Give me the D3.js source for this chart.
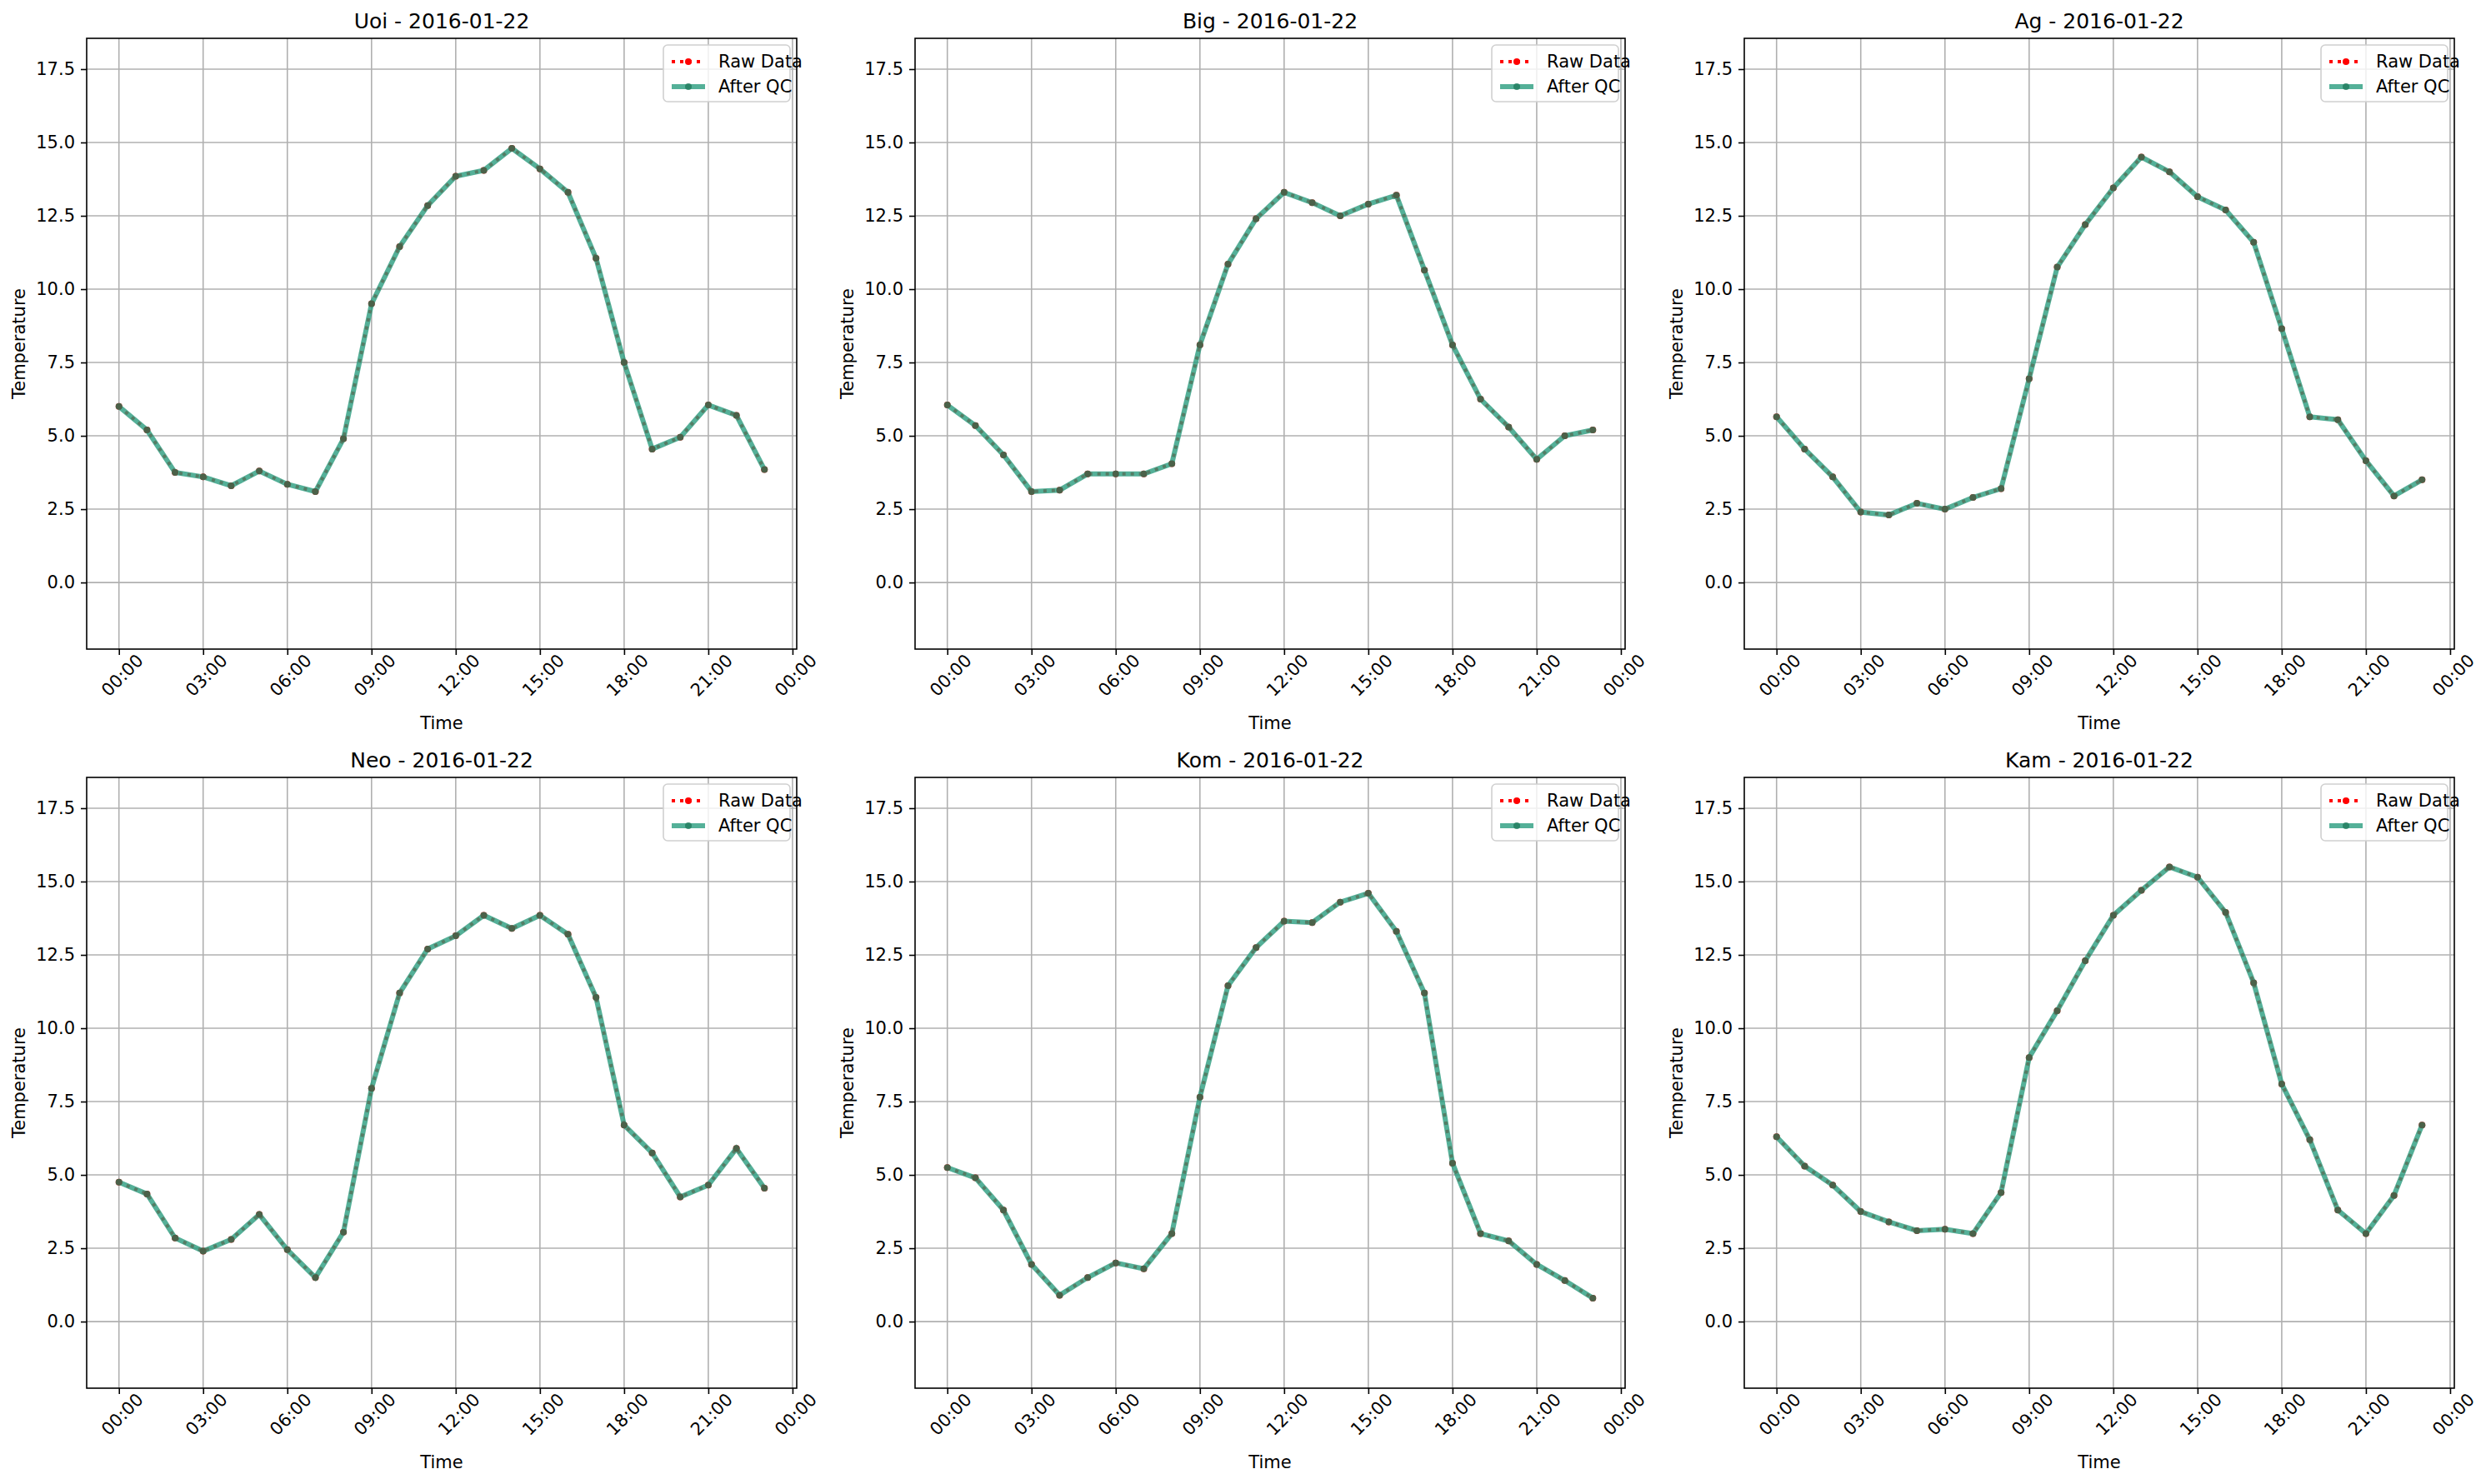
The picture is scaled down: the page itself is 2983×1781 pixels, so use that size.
<!DOCTYPE html>
<html><head><meta charset="utf-8">
<script src="https://cdn.jsdelivr.net/npm/d3@7"></script>
<style>body{margin:0;background:#fff}text{font-family:"DejaVu Sans",sans-serif}</style>
</head><body><svg id="c" width="2983" height="1781"></svg>
<script>
const stations=["Uoi","Big","Ag","Neo","Kom","Kam"];
const hours=d3.range(24);
const Uoi=[6.0,5.2,3.75,3.6,3.3,3.8,3.35,3.1,4.9,9.5,11.45,12.85,13.85,14.05,14.8,14.1,13.3,11.05,7.5,4.55,4.95,6.05,5.7,3.85];
const Big=[6.05,5.35,4.35,3.1,3.15,3.7,3.7,3.7,4.05,8.1,10.85,12.4,13.3,12.95,12.5,12.9,13.2,10.65,8.1,6.25,5.3,4.2,5.0,5.2];
const Ag=[5.65,4.55,3.6,2.4,2.3,2.7,2.5,2.9,3.2,6.95,10.75,12.2,13.45,14.5,14.0,13.15,12.7,11.6,8.65,5.65,5.55,4.15,2.95,3.5];
const Neo=[4.75,4.35,2.85,2.4,2.8,3.65,2.45,1.5,3.05,7.95,11.2,12.7,13.15,13.85,13.4,13.85,13.2,11.05,6.7,5.75,4.25,4.65,5.9,4.55];
const Kom=[5.25,4.9,3.8,1.95,0.9,1.5,2.0,1.8,3.0,7.65,11.45,12.75,13.65,13.6,14.3,14.6,13.3,11.2,5.4,3.0,2.75,1.95,1.4,0.8];
const Kam=[6.3,5.3,4.65,3.75,3.4,3.1,3.15,3.0,4.4,9.0,10.6,12.3,13.85,14.7,15.5,15.15,13.95,11.55,8.1,6.2,3.8,3.0,4.3,6.7];
const series={Uoi,Big,Ag,Neo,Kom,Kam};
const xTicks=[0,3,6,9,12,15,18,21,24];
const xTickLabels=["00:00","03:00","06:00","09:00","12:00","15:00","18:00","21:00","00:00"];
const yTicks=[0,2.5,5,7.5,10,12.5,15,17.5];
const dateStr="2016-01-22";

const svg=d3.select("#c");
const W=852,H=733, lefts=[104,1098,2093], tops=[46,933];
const teal="#2a9d7f";
stations.forEach((s,i)=>{
  const g=svg.append("g").attr("transform",`translate(${lefts[i%3]},${tops[Math.floor(i/3)]})`);
  const x=d3.scaleLinear().domain([-1.15,24.15]).range([0,W]);
  const y=d3.scaleLinear().domain([-2.27,18.55]).range([H,0]);
  g.append("g").selectAll("line").data(xTicks).join("line").attr("x1",d=>x(d)).attr("x2",d=>x(d)).attr("y1",0).attr("y2",H).attr("stroke","#b0b0b0").attr("stroke-width",1.6);
  g.append("g").selectAll("line").data(yTicks).join("line").attr("y1",d=>y(d)).attr("y2",d=>y(d)).attr("x1",0).attr("x2",W).attr("stroke","#b0b0b0").attr("stroke-width",1.6);
  const xa=g.append("g").attr("transform",`translate(0,${H})`).call(d3.axisBottom(x).tickValues(xTicks).tickFormat((d,j)=>xTickLabels[j]).tickSize(7).tickPadding(6));
  xa.selectAll("text").attr("font-size",21).attr("text-anchor","end").attr("transform","rotate(-45)").attr("dx","0.5em").attr("dy","0.9em");
  const ya=g.append("g").call(d3.axisLeft(y).tickValues(yTicks).tickFormat(d3.format(".1f")).tickSize(7).tickPadding(7));
  ya.selectAll("text").attr("font-size",21);
  [xa,ya].forEach(a=>{a.select(".domain").remove();a.selectAll("line").attr("stroke","#000").attr("stroke-width",1.6);a.selectAll("text").attr("fill","#000");});
  const data=series[s].map((v,j)=>[hours[j],v]);
  const line=d3.line().x(d=>x(d[0])).y(d=>y(d[1]));
  g.append("path").attr("d",line(data)).attr("fill","none").attr("stroke","red").attr("stroke-width",4).attr("stroke-dasharray","4 6");
  g.append("g").selectAll("circle").data(data).join("circle").attr("cx",d=>x(d[0])).attr("cy",d=>y(d[1])).attr("r",4).attr("fill","red");
  const q=g.append("g").attr("opacity",0.8);
  q.append("path").attr("d",line(data)).attr("fill","none").attr("stroke",teal).attr("stroke-width",6);
  q.append("g").selectAll("circle").data(data).join("circle").attr("cx",d=>x(d[0])).attr("cy",d=>y(d[1])).attr("r",4).attr("fill","#1f7a5c");
  g.append("rect").attr("width",W).attr("height",H).attr("fill","none").attr("stroke","#000").attr("stroke-width",1.6);
  g.append("text").attr("x",W/2).attr("y",-12).attr("text-anchor","middle").attr("font-size",25).text(`${s} - ${dateStr}`);
  g.append("text").attr("x",W/2).attr("y",H+96).attr("text-anchor","middle").attr("font-size",21).text("Time");
  g.append("text").attr("transform",`translate(-74,${H/2}) rotate(-90)`).attr("text-anchor","middle").attr("font-size",21).text("Temperature");
  const lg=g.append("g").attr("transform",`translate(${W-160},8)`);
  lg.append("rect").attr("width",152).attr("height",68).attr("rx",5).attr("fill","#fff").attr("fill-opacity",0.8).attr("stroke","#d0d0d0").attr("stroke-width",1.6);
  lg.append("line").attr("x1",10).attr("x2",50).attr("y1",20).attr("y2",20).attr("stroke","red").attr("stroke-width",4).attr("stroke-dasharray","4 6");
  lg.append("circle").attr("cx",30).attr("cy",20).attr("r",4).attr("fill","red");
  lg.append("line").attr("x1",10).attr("x2",50).attr("y1",50).attr("y2",50).attr("stroke",teal).attr("stroke-width",6).attr("opacity",0.8);
  lg.append("circle").attr("cx",30).attr("cy",50).attr("r",4).attr("fill","#1f7a5c").attr("opacity",0.8);
  lg.append("text").attr("x",66).attr("y",27).attr("font-size",21).text("Raw Data");
  lg.append("text").attr("x",66).attr("y",57).attr("font-size",21).text("After QC");
});
</script></body></html>
